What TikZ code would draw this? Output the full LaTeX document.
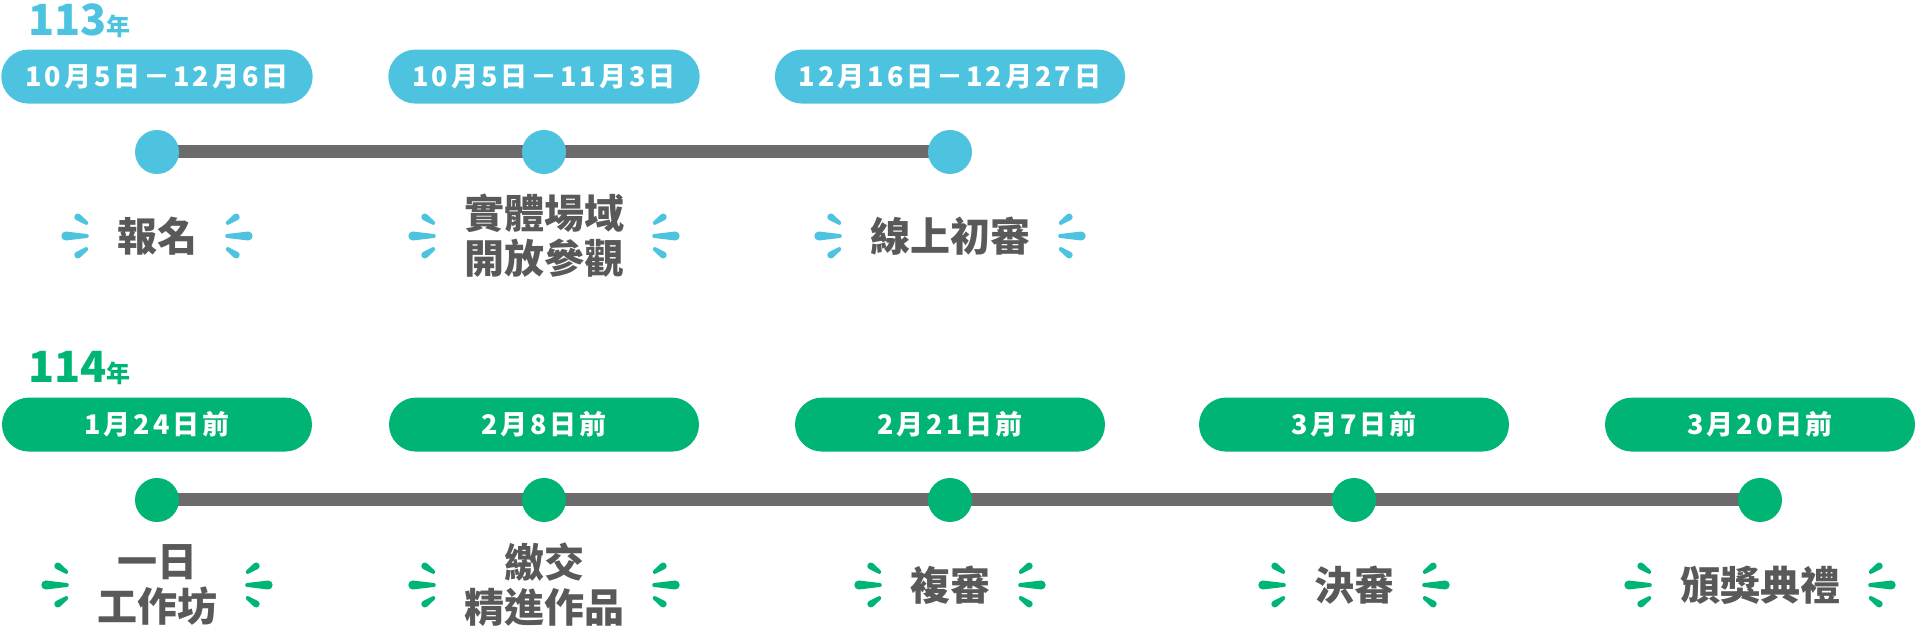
\documentclass[tikz,border=0pt]{standalone}
\usepackage{fontspec}
\setmainfont{Noto Sans CJK TC}
\newfontfamily\pillfont{Noto Sans CJK TC}[LetterSpace=11]
\usetikzlibrary{positioning,backgrounds}
\definecolor{skyblue}{HTML}{4DC3E0}
\definecolor{leafgreen}{HTML}{00B574}
\definecolor{inkgray}{HTML}{595959}
\definecolor{railgray}{HTML}{6B6B6B}

\begin{document}
\begin{tikzpicture}[
    x=1pt, y=1pt,
    stopdot/.style={circle, minimum size=44pt, inner sep=0pt},
    datepill/.style={rounded corners=27pt, minimum width=310pt, minimum height=54pt,
        inner xsep=24pt, inner ysep=0pt, text=white,
        font=\pillfont\bfseries\fontsize{27}{27}\selectfont},
    eventtext/.style={inner sep=0pt, align=center, text=inkgray,
        font=\bfseries\fontsize{40}{45}\selectfont},
    yeartext/.style={anchor=base west, inner sep=0pt, font=\bfseries},
    rail/.style={railgray, line width=13pt},
    spark/.pic={
        \fill (-10,4.5) arc[start angle=90, end angle=270, radius=4.5]
            -- (11,-2) arc[start angle=-90, end angle=90, radius=2] -- cycle;
        \foreach \s in {1,-1}
            \fill[yscale=\s, rotate around={-35:(2,19)}] (2,22.5)
                arc[start angle=90, end angle=270, radius=3.5]
                -- (12.3,17) arc[start angle=-90, end angle=90, radius=2] -- cycle;
    }
]
\useasboundingbox (0,0) rectangle (1920,632);

\node[yeartext, text=skyblue] (year113) at (28,596)
    {\fontsize{43}{43}\selectfont 113\fontsize{24}{24}\selectfont 年};
\node[yeartext, text=leafgreen] (year114) at (28,249)
    {\fontsize{43}{43}\selectfont 114\fontsize{24}{24}\selectfont 年};

\node[stopdot, fill=skyblue] (signup) at (157,480) {};
\node[stopdot, fill=skyblue] (openhouse) at (544,480) {};
\node[stopdot, fill=skyblue] (online) at (950,480) {};

\node[datepill, fill=skyblue, above=26pt of signup] (signupdate) {10月5日－12月6日};
\node[datepill, fill=skyblue, above=26pt of openhouse] (openhousedate) {10月5日－11月3日};
\node[datepill, fill=skyblue, above=26pt of online] (onlinedate) {12月16日－12月27日};

\node[eventtext] (signuptext) at ([yshift=-84pt]signup.center) {報名};
\node[eventtext] (openhousetext) at ([yshift=-84pt]openhouse.center) {實體場域\\開放參觀};
\node[eventtext] (onlinetext) at ([yshift=-84pt]online.center) {線上初審};

\node[stopdot, fill=leafgreen] (workshop) at (157,132) {};
\node[stopdot, fill=leafgreen] (submit) at (544,132) {};
\node[stopdot, fill=leafgreen] (second) at (950,132) {};
\node[stopdot, fill=leafgreen] (final) at (1354,132) {};
\node[stopdot, fill=leafgreen] (award) at (1760,132) {};

\node[datepill, fill=leafgreen, above=26pt of workshop] (workshopdate) {1月24日前};
\node[datepill, fill=leafgreen, above=26pt of submit] (submitdate) {2月8日前};
\node[datepill, fill=leafgreen, above=26pt of second] (seconddate) {2月21日前};
\node[datepill, fill=leafgreen, above=26pt of final] (finaldate) {3月7日前};
\node[datepill, fill=leafgreen, above=26pt of award] (awarddate) {3月20日前};

\node[eventtext] (workshoptext) at ([yshift=-85pt]workshop.center) {一日\\工作坊};
\node[eventtext] (submittext) at ([yshift=-85pt]submit.center) {繳交\\精進作品};
\node[eventtext] (secondtext) at ([yshift=-85pt]second.center) {複審};
\node[eventtext] (finaltext) at ([yshift=-85pt]final.center) {決審};
\node[eventtext] (awardtext) at ([yshift=-85pt]award.center) {頒獎典禮};

\foreach \n/\c in {signuptext/skyblue, openhousetext/skyblue, onlinetext/skyblue,
    workshoptext/leafgreen, submittext/leafgreen, secondtext/leafgreen,
    finaltext/leafgreen, awardtext/leafgreen} {
    \pic[\c] at ([xshift=-41pt]\n.west) {spark};
    \pic[\c, xscale=-1] at ([xshift=41pt]\n.east) {spark};
}

\begin{scope}[on background layer]
\draw[rail] (signup.center) -- (online.center);
\draw[rail] (workshop.center) -- (award.center);
\end{scope}

\end{tikzpicture}
\end{document}
